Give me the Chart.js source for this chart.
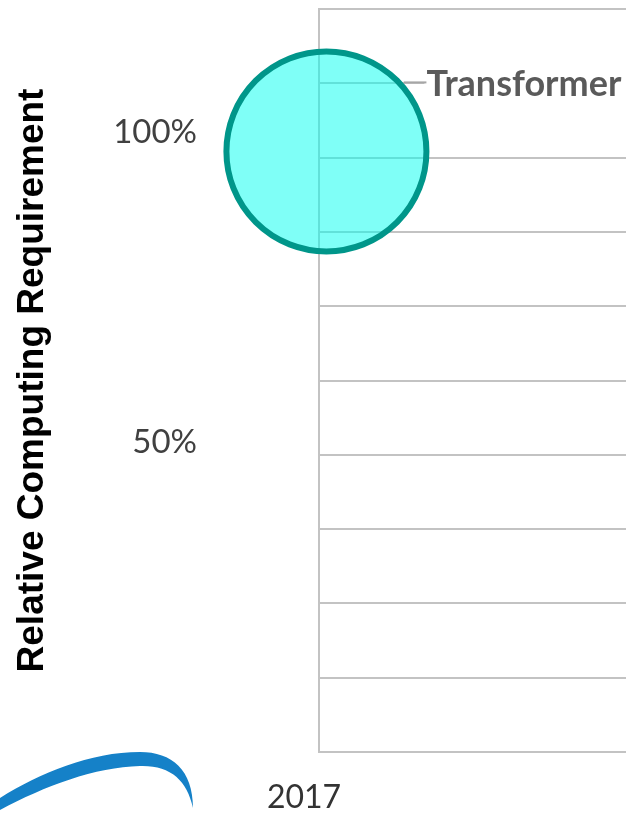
<!DOCTYPE html>
<html>
<head>
<meta charset="utf-8">
<script src="https://cdn.jsdelivr.net/npm/chart.js@4"></script>
<style>
  html, body { margin: 0; padding: 0; background: #fff; overflow: hidden; }
  #wrap { position: relative; width: 626px; height: 813px; overflow: hidden; }
  #chart { display: block; }
  #logo { position: absolute; left: 0; top: 740px; }
</style>
</head>
<body>
<div id="wrap">
  <canvas id="chart" width="700" height="813"></canvas>
  <svg id="logo" width="200" height="73" viewBox="0 0 200 73">
    <path d="M0 58 C 40 33, 90 12, 140 12 C 172 12, 193 30, 193 68 C 187 40, 170 25, 140 26 C 95 27, 45 46, 0 70 Z" fill="#1581c8"/>
  </svg>
</div>
<script>
// Données de la série
const modeles = ['Transformer'];
const annees = [2017.02];
const besoin = [97];
const rayons = [100];

// Axes
const xTickLabels = [2017];
const yTickLabels = [50, 100];
const yGrille = [0, 12, 24, 36, 48, 60, 72, 84, 96, 108, 120];

const gris = '#c3c3c3';

// Étiquette du modèle avec trait de rappel
const etiquettePlugin = {
    id: 'etiquette',
    afterDatasetsDraw(chart) {
        const ctx = chart.ctx;
        const meta = chart.getDatasetMeta(0);
        meta.data.forEach((pt, i) => {
            const r = pt.options.radius + pt.options.borderWidth / 2;
            const dy = -68;
            const tx = pt.x + 100;
            const ty = pt.y + dy;
            const ex = pt.x + Math.sqrt(r * r - dy * dy);
            ctx.save();
            ctx.font = 'bold 36px Lato';
            const w = ctx.measureText(modeles[i]).width;
            ctx.fillStyle = '#fff';
            ctx.fillRect(tx - 2, ty - 18, w + 100, 34);
            ctx.strokeStyle = '#a6a6a6';
            ctx.lineWidth = 2;
            ctx.beginPath();
            ctx.moveTo(ex, ty - 1);
            ctx.lineTo(tx, ty - 1);
            ctx.stroke();
            ctx.fillStyle = '#5a5a5a';
            ctx.textBaseline = 'alphabetic';
            ctx.fillText(modeles[i], tx, ty + 13);
            ctx.restore();
        });
    }
};

const ctx = document.getElementById('chart').getContext('2d');
new Chart(ctx, {
    type: 'bubble',
    data: {
        datasets: [{
            label: 'Relative Computing Requirement',
            data: annees.map((x, i) => ({ x: x, y: besoin[i], r: rayons[i] })),
            backgroundColor: 'rgba(0, 255, 240, 0.5)',
            borderColor: '#00968a',
            borderWidth: 6,
            clip: false
        }]
    },
    options: {
        responsive: false,
        animation: false,
        layout: { autoPadding: false, padding: { top: 9, right: 10, left: 0, bottom: 0 } },
        plugins: {
            legend: { display: false },
            tooltip: { enabled: false }
        },
        scales: {
            x: {
                type: 'linear',
                min: 2017,
                max: 2018,
                afterFit: s => {
                    s.height = 61;
                    s.paddingLeft = 0;
                    s.paddingRight = 0;
                },
                grid: { display: false, drawTicks: false },
                border: { display: true, color: gris, width: 2 },
                ticks: {
                    stepSize: 1,
                    padding: 26,
                    labelOffset: -15,
                    color: '#333',
                    font: { family: 'Lato', size: 32 },
                    callback: v => xTickLabels.includes(v) ? String(v) : ''
                }
            },
            y: {
                min: 0,
                max: 120,
                afterFit: s => {
                    s.width = 319;
                    s.paddingTop = 0;
                    s.paddingBottom = 0;
                },
                afterBuildTicks: s => {
                    s.ticks = yGrille.concat(yTickLabels)
                        .sort((a, b) => a - b)
                        .map(v => ({ value: v }));
                },
                grid: {
                    drawTicks: false,
                    lineWidth: 2,
                    color: c => yTickLabels.includes(c.tick && c.tick.value) ? 'rgba(0,0,0,0)' : gris
                },
                border: { display: true, color: gris, width: 2 },
                ticks: {
                    autoSkip: false,
                    padding: 122,
                    color: '#404040',
                    font: { family: 'Lato', size: 33 },
                    callback: v => yTickLabels.includes(v) ? v + '%' : ''
                },
                title: {
                    display: true,
                    text: 'Relative Computing Requirement',
                    color: '#000',
                    font: { family: 'Liberation Sans', size: 37, weight: 'bold' },
                    padding: { top: 11, bottom: 0 }
                }
            }
        }
    },
    plugins: [etiquettePlugin]
});
</script>
</body>
</html>
